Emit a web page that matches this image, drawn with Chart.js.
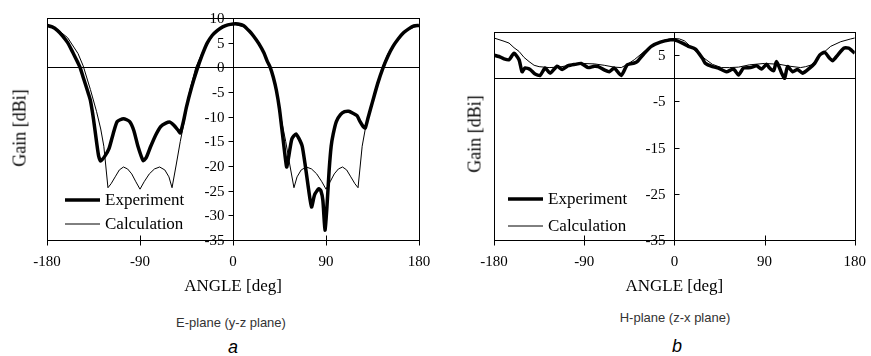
<!DOCTYPE html>
<html>
<head>
<script src="https://cdn.jsdelivr.net/npm/chart.js@4.4.0/dist/chart.umd.min.js"></script>
<title>Gain patterns</title>
<style>
    body { margin: 0; background: #fff; width: 871px; height: 356px; position: relative; overflow: hidden; font-family: "Liberation Serif", serif; }
    canvas { position: absolute; top: 0; }
    .ytitle { position: absolute; font-size: 18px; transform: translate(-50%, -50%) rotate(-90deg); white-space: nowrap; }
    .cap { position: absolute; font-family: "Liberation Sans", sans-serif; font-size: 13px; color: #333; transform: translate(-50%, -50%); white-space: nowrap; }
    .letter { position: absolute; font-family: "Liberation Sans", sans-serif; font-style: italic; font-size: 18px; transform: translate(-50%, -50%); }
</style>
</head>
<body>
<canvas id="e-chart" width="440" height="300" style="left:0"></canvas>
<canvas id="h-chart" width="431" height="300" style="left:440px"></canvas>

<div class="ytitle" style="left:20px; top:128px">Gain [dBi]</div>
<div class="ytitle" style="left:475px; top:134px">Gain [dBi]</div>
<div class="cap" style="left:231px; top:322px">E-plane (y-z plane)</div>
<div class="cap" style="left:675px; top:317px">H-plane (z-x plane)</div>
<div class="letter" style="left:233px; top:347px">a</div>
<div class="letter" style="left:677px; top:346px">b</div>

<script>
    // tick values
    var angleTicks = [-180, -90, 0, 90, 180];
    var eGainTicks = [10, 5, 0, -5, -10, -15, -20, -25, -30, -35];
    var hGainTicks = [5, -5, -15, -25, -35];

    // E-plane, measured
    var eExpAngle = [-180, -175, -170, -165, -160, -155, -150, -148, -145, -140,
        -138, -135, -132, -130, -128, -124, -120, -116, -112, -106,
        -100, -96, -92, -87, -84, -80, -75, -70, -65, -61,
        -57, -53, -51, -48, -45, -40, -35, -30, -25, -20,
        -15, -10, -5,
        0, 5, 10, 16, 20, 25, 30, 33, 36, 39,
        42, 45, 47, 49, 51, 52, 54, 57, 61, 64,
        67, 70, 73, 76, 79, 83, 85, 87, 89, 91,
        93, 95, 97, 100, 104, 108, 112, 116, 120, 123,
        126, 128, 131, 135, 140, 145, 150, 155, 160, 165,
        170, 175, 180];
    var eExpGain = [8.5, 8.2, 7.5, 6.4, 5.0, 3.0, 0.9, 0, -2, -5.3,
        -6.7, -10.5, -15.2, -18, -19, -18, -16.5, -13.5, -11, -10.4,
        -11, -12.8, -16, -18.9, -18.3, -16.2, -13.8, -12, -11.3, -11.1,
        -11.8, -12.8, -13.3, -11, -8, -4, -0.6, 2.4, 4.9, 6.5,
        7.5, 8.2, 8.6,
        8.8, 8.8, 8.5, 7.3, 6.3, 4.8, 2.9, 1.3, 0, -2,
        -4.7, -8.5, -12, -15.5, -19, -20.2, -18, -14.5, -13.5, -14.5,
        -16, -20, -24.5, -28.3, -25.8, -24.6, -25, -27, -33, -28,
        -21, -16, -13.5, -11, -9.6, -9, -8.9, -9.3, -9.8, -11,
        -12, -12.3, -10, -7, -3.3, -0.2, 2.3, 4.3, 5.8, 7,
        7.8, 8.4, 8.5];

    // E-plane, calculated
    var eCalcAngle = [-180, -170, -160, -150, -145, -138, -132, -128, -125, -121,
        -118, -114, -110, -106, -102, -98, -94, -90, -86, -81,
        -76, -71, -66, -62, -59, -55, -51, -47, -42, -36,
        -30, -20, -10,
        0, 10, 20, 30, 36, 42, 47, 51, 55, 59,
        62, 66, 71, 76, 81, 86, 90, 94, 98, 102,
        106, 110, 114, 118, 121, 125, 128, 132, 138, 145,
        150, 160, 170, 180];
    var eCalcGain = [8.5, 7.7, 6.0, 2.8, 0.3, -4.5, -9, -12.5, -16, -24.4,
        -23.6, -22.2, -20.8, -20.2, -20.6, -21.6, -23.2, -24.7, -23.2, -21.6,
        -20.6, -20.2, -20.8, -22.2, -24.4, -19.8, -15, -10.8, -4.8, 0,
        2.9, 6.3, 8.2,
        8.8, 8.2, 6.3, 2.9, 0, -4.8, -10.8, -15, -19.8, -24.4,
        -22.2, -20.8, -20.2, -20.6, -21.6, -23.2, -24.7, -23.2, -21.6, -20.6,
        -20.2, -20.8, -22.2, -23.6, -24.4, -16, -12.5, -9, -4.5, 0.3,
        2.8, 6.0, 7.7, 8.5];

    // H-plane, measured
    var hExpAngle = [-180, -175, -170, -165, -160, -155, -152, -149, -144, -139,
        -134, -129, -124, -117, -112, -106, -99, -93, -86, -80,
        -76, -70, -65, -60, -53, -47, -40, -37, -30, -23,
        -14, -4, 0, 8, 14, 21, 28, 31, 38, 44,
        52, 59, 64, 69, 76, 82, 87, 92, 95, 99,
        102, 107, 110, 113, 118, 123, 128, 135, 140, 145,
        150, 155, 158, 163, 169, 174, 177, 180];
    var hExpGain = [5.0, 4.7, 4.2, 4.0, 5.4, 4.0, 1.4, 2.2, 1.9, 0.9,
        0.6, 2.2, 1.1, 2.6, 1.9, 2.7, 3.0, 3.2, 2.3, 2.6,
        2.5, 1.8, 1.4, 2.2, 0.6, 2.9, 3.3, 3.6, 5.4, 6.9,
        7.8, 8.3, 8.3, 7.6, 6.9, 6.3, 4.3, 3.2, 2.5, 2.2,
        1.4, 2.0, 0.7, 2.2, 2.3, 2.7, 2.0, 3.0, 2.2, 1.6,
        3.6, 1.1, 0.0, 2.5, 1.4, 1.9, 1.1, 2.2, 3.2, 5.0,
        5.6, 4.3, 3.8, 5.0, 6.5, 6.5, 6.0, 5.4];

    // H-plane, calculated
    var hCalcAngle = [-180, -170, -165, -160, -155, -150, -145, -140, -135, -125,
        -115, -105, -93, -80, -70, -60, -53, -47, -40, -30,
        -20, -13, -5, 0, 5, 10, 18, 28, 38, 47,
        55, 64, 75, 90, 105, 115, 126, 131, 137, 146,
        156, 166, 176, 180];
    var hCalcGain = [8.7, 8.0, 7.6, 6.6, 5.8, 4.5, 3.6, 2.8, 2.5, 2.3,
        2.4, 2.8, 3.2, 3.1, 2.8, 2.4, 2.3, 3.0, 4.0, 5.8,
        7.3, 8.0, 8.5, 8.6, 8.5, 8.1, 6.5, 4.6, 3.0, 2.3,
        2.3, 2.4, 2.9, 3.2, 3.0, 2.6, 2.3, 2.5, 2.9, 5.0,
        6.9, 7.9, 8.5, 8.7];

    var serif = '"Liberation Serif", "Times New Roman", serif';

    function points(xs, ys) {
        return xs.map((x, i) => ({x: x, y: ys[i]}));
    }

    // box, zero line, tick marks and the gain labels next to the centre axis
    var framePlugin = {
        id: 'frame',
        beforeDatasetsDraw(chart, args, opts) {
            var a = chart.chartArea, ctx = chart.ctx;
            var xs = chart.scales.x, ys = chart.scales.y;
            var px = v => Math.round(xs.getPixelForValue(v)) + 0.5;
            var py = v => Math.round(ys.getPixelForValue(v)) + 0.5;
            function seg(x1, y1, x2, y2) {
                ctx.beginPath(); ctx.moveTo(x1, y1); ctx.lineTo(x2, y2); ctx.stroke();
            }
            ctx.save();
            ctx.strokeStyle = '#000';
            ctx.lineWidth = 1;
            var l = px(-180), r = px(180), t = Math.round(a.top) + 0.5, b = Math.round(a.bottom) + 0.5;
            ctx.strokeRect(l, t, r - l, b - t);
            seg(l, py(0), r, py(0));
            seg(px(0), t, px(0), b);
            ctx.font = '15px ' + serif;
            ctx.fillStyle = '#000';
            ctx.textAlign = 'right';
            ctx.textBaseline = 'middle';
            ys.ticks.forEach(tk => {
                var y = py(tk.value);
                seg(px(0), y, px(0) + opts.yTick, y);
                ctx.fillText(tk.label, px(0) - 9, y + 1);
            });
            xs.ticks.forEach(tk => {
                var x = px(tk.value);
                seg(x, b - 5, x, b + 5);
            });
            ctx.restore();
        }
    };

    // legend drawn inside the plot area
    var legendPlugin = {
        id: 'inLegend',
        afterDatasetsDraw(chart, args, opts) {
            var a = chart.chartArea, ctx = chart.ctx;
            ctx.save();
            ctx.font = '17px ' + serif;
            ctx.textBaseline = 'middle';
            ctx.fillStyle = '#000';
            chart.data.datasets.forEach((ds, i) => {
                var y = a.top + opts.y + i * opts.gap;
                var x = a.left + opts.x;
                ctx.strokeStyle = '#000';
                ctx.lineWidth = ds.borderWidth;
                ctx.beginPath(); ctx.moveTo(x, y); ctx.lineTo(x + 35, y); ctx.stroke();
                ctx.fillText(ds.label, x + 40, y + 1);
            });
            ctx.restore();
        }
    };

    function makeChart(id, exp, calc, yTicks, pad, legendPos, yTickDir) {
        return new Chart(document.getElementById(id), {
            type: 'line',
            data: {
                datasets: [{
                    label: 'Experiment',
                    data: exp,
                    borderColor: '#000',
                    borderWidth: 3.5,
                    pointRadius: 0,
                    tension: 0.2,
                    fill: false
                }, {
                    label: 'Calculation',
                    data: calc,
                    borderColor: '#000',
                    borderWidth: 1,
                    pointRadius: 0,
                    tension: 0,
                    fill: false
                }]
            },
            options: {
                responsive: false,
                animation: false,
                layout: { padding: pad },
                plugins: {
                    legend: { display: false },
                    tooltip: { enabled: false },
                    frame: { yTick: yTickDir },
                    inLegend: legendPos
                },
                scales: {
                    x: {
                        type: 'linear',
                        min: -180,
                        max: 180,
                        afterBuildTicks: s => { s.ticks = angleTicks.map(v => ({value: v})); },
                        afterFit: s => { s.height = 60; },
                        grid: { display: false },
                        border: { display: false },
                        ticks: { color: '#000', font: { family: serif, size: 15 }, padding: 5, maxRotation: 0 },
                        title: { display: true, text: 'ANGLE [deg]', color: '#000', font: { family: serif, size: 17 }, padding: { top: 0, bottom: 3 } }
                    },
                    y: {
                        type: 'linear',
                        min: -35,
                        max: 10,
                        position: { x: 0 },
                        afterBuildTicks: s => { s.ticks = yTicks.map(v => ({value: v})); },
                        grid: { display: false },
                        border: { display: false },
                        ticks: { display: false, font: { family: serif, size: 15 } }
                    }
                }
            },
            plugins: [framePlugin, legendPlugin]
        });
    }

    function drawAll() {
        makeChart('e-chart', points(eExpAngle, eExpGain), points(eCalcAngle, eCalcGain), eGainTicks,
            { left: 47, top: 18, right: 21, bottom: 0 }, { x: 18, y: 182, gap: 24 }, -5);
        makeChart('h-chart', points(hExpAngle, hExpGain), points(hCalcAngle, hCalcGain), hGainTicks,
            { left: 54, top: 32, right: 13, bottom: 0 }, { x: 14, y: 167, gap: 27 }, 5);
    }

    // canvas text needs the serif face loaded first
    document.fonts.load('15px "Liberation Serif"').then(drawAll, drawAll);
</script>
</body>
</html>
